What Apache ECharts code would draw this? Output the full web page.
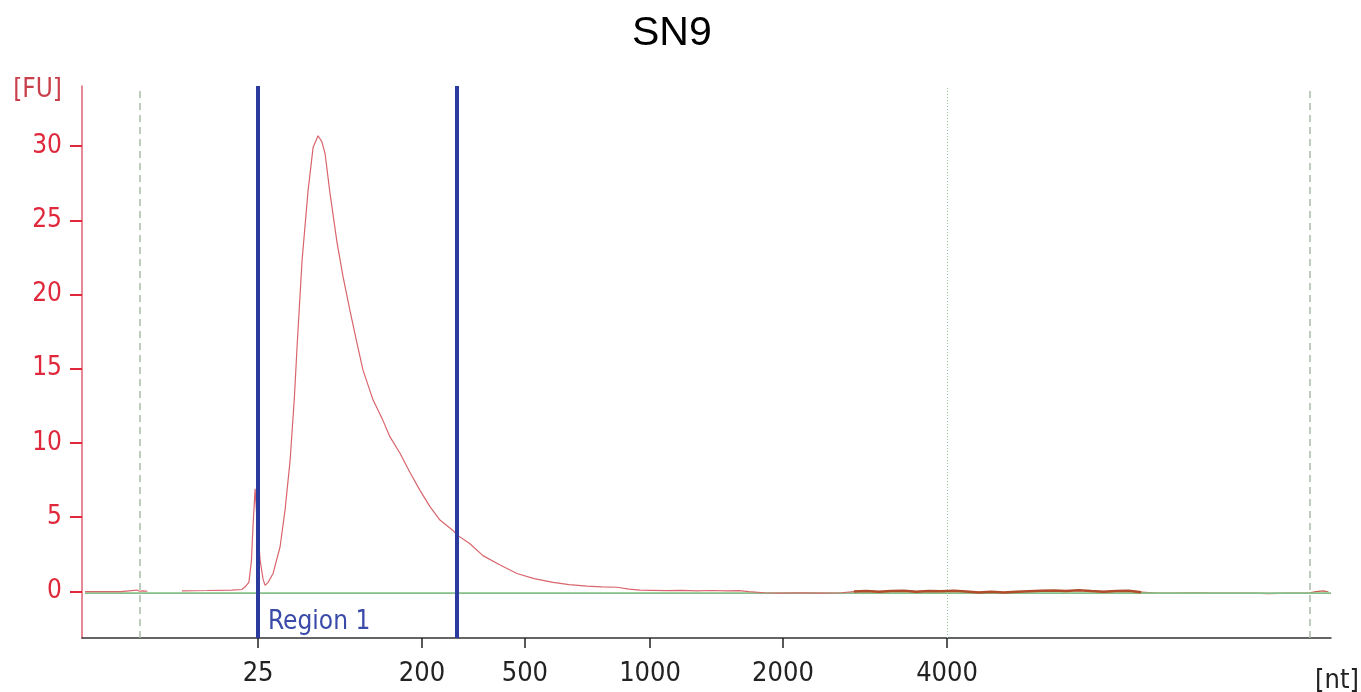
<!DOCTYPE html>
<html><head><meta charset="utf-8">
<script src="https://cdn.jsdelivr.net/npm/echarts@6/dist/echarts.min.js"></script>
<style>html,body{margin:0;padding:0;background:#fff}#c{width:1361px;height:692px}</style>
</head><body><div id="c"></div>
<script>
// migration time (s) of the ladder peaks and their sizes in nt
const ladderTimes = [26.05, 32.61, 36.73, 41.74, 47.06, 53.63];
const ladderLabels = ['25', '200', '500', '1000', '2000', '4000'];
// fluorescence ticks
const fuTicks = [0, 5, 10, 15, 20, 25, 30];
// electropherogram trace: time (s), fluorescence (FU)
const traceT = [19.12,20.55,20.62,21.20,21.30,21.45,21.62,21.70,23.00,24.00,25.00,25.40,25.53,25.68,25.78,25.85,25.93,26.00,26.13,26.25,26.33,26.45,26.65,26.93,27.13,27.33,27.50,27.61,27.81,28.05,28.25,28.45,28.60,28.73,28.93,29.21,29.45,29.73,30.01,30.25,30.65,31.05,31.33,31.73,32.13,32.53,32.93,33.33,33.85,34.01,34.53,35.05,35.70,36.41,37.10,37.86,38.50,39.22,39.80,40.42,40.90,41.34,41.80,42.40,43.00,43.60,44.20,44.80,45.30,45.70,46.30,47.00,47.80,48.60,49.40,49.90,50.40,50.90,51.40,51.90,52.40,52.90,53.40,53.90,54.40,54.90,55.40,55.90,56.40,56.90,57.40,57.90,58.40,58.90,59.40,59.90,60.40,60.90,61.40,62.00,62.80,63.50,64.20,65.00,65.80,66.50,67.30,68.10,68.40,68.70,68.90];
const traceFU = [-0.03,-0.03,0.08,0.08,0.0,0.02,0.0,null,0.03,0.05,0.08,0.12,0.3,0.6,2.0,4.5,6.9,5.0,2.1,0.8,0.4,0.6,1.2,3.0,5.5,8.8,13.0,16.5,22.3,27.0,29.9,30.7,30.3,29.5,26.8,23.5,21.2,18.9,16.7,14.9,12.9,11.5,10.4,9.3,8.0,6.8,5.7,4.8,4.1,3.8,3.2,2.4,1.8,1.2,0.85,0.6,0.45,0.34,0.3,0.27,0.15,0.07,0.06,0.04,0.06,0.03,0.05,0.02,0.04,-0.02,-0.1,-0.12,-0.1,-0.12,-0.1,-0.02,0.02,-0.04,0.01,0.03,-0.03,0.02,0.0,0.03,-0.02,-0.08,-0.03,-0.09,-0.04,0.0,0.03,0.05,0.02,0.06,0.01,-0.03,0.02,0.04,-0.06,-0.12,-0.13,-0.1,-0.13,-0.13,-0.13,-0.16,-0.13,-0.12,-0.02,0.02,-0.05];
// baseline
const baseT = [19.12, 69.0];
const baseFU = [-0.13, -0.13];
// region 1 borders, lower/upper markers
const regionT = [26.05, 34.01];
const markerT = [21.32, 68.16];
const xMin = 19, xMax = 69, yMin = -3.15, yMax = 34.05;

const pts = traceT.map((t, i) => [t, traceFU[i] === null ? '-' : traceFU[i]]);
const partA = pts.filter(p => p[0] <= 61.4);
const partB = pts.filter(p => p[0] >= 61.4);
const dense = pts.filter(p => p[0] >= 49.9 && p[0] <= 61.4);
const base = baseT.map((t, i) => [t, baseFU[i]]);

const font = "'Liberation Sans Narrow','DejaVu Sans Condensed',sans-serif";
const chart = echarts.init(document.getElementById('c'));
chart.setOption({
  animation: false,
  title: { text: 'SN9', left: 627, top: 8, textStyle: { fontFamily: "'Liberation Sans',Arial,sans-serif", fontSize: 41, fontWeight: 'normal', color: '#000' } },
  grid: { left: 82, right: 30, top: 86, bottom: 54, containLabel: false, outerBoundsMode: 'none' },
  xAxis: {
    type: 'value', min: xMin, max: xMax,
    name: '[nt]', nameLocation: 'end', nameGap: -16,
    nameTextStyle: { fontFamily: font, fontSize: 27, color: '#222', verticalAlign: 'top', lineHeight: 86 },
    axisLine: { show: true, onZero: false, lineStyle: { color: '#333', width: 1.5 } },
    axisTick: { show: true, customValues: ladderTimes, length: 10, lineStyle: { color: '#222', width: 1.5 } },
    axisLabel: { customValues: ladderTimes, margin: 22, fontFamily: font, fontSize: 27, color: '#222',
      formatter: v => { const i = ladderTimes.findIndex(t => Math.abs(t - v) < 1e-6); return i >= 0 ? ladderLabels[i] : ''; } },
    splitLine: { show: false }
  },
  yAxis: {
    type: 'value', min: yMin, max: yMax,
    name: '[FU]', nameLocation: 'end', nameGap: -4,
    nameTextStyle: { fontFamily: font, fontSize: 26, color: '#c8404c', align: 'right', verticalAlign: 'middle', padding: [0, 20, 0, 0] },
    axisLine: { show: true, onZero: false, lineStyle: { color: '#e06070', width: 1.5 } },
    axisTick: { show: true, customValues: fuTicks, length: 12, lineStyle: { color: '#e0283c', width: 2 } },
    axisLabel: { customValues: fuTicks, margin: 20, fontFamily: font, fontSize: 26, color: '#e0283c' },
    splitLine: { show: false }
  },
  graphic: [{ type: 'text', left: 268, top: 609, style: { text: 'Region 1', fontFamily: font, fontSize: 26, fill: '#3a4aa8' } }],
  series: [
    { name: 'trace-right', type: 'line', data: partB, showSymbol: false, z: 1, lineStyle: { color: '#c85a50', width: 1.2 } },
    { name: 'baseline', type: 'line', data: base, showSymbol: false, z: 2, lineStyle: { color: '#86bf88', width: 1.8 },
      markLine: { silent: true, symbol: 'none', label: { show: false },
        data: [
          { xAxis: markerT[0], lineStyle: { color: '#a8bca8', type: [7, 5], width: 1.5 } },
          { xAxis: markerT[1], lineStyle: { color: '#a8bca8', type: [7, 5], width: 1.5 } },
          { xAxis: ladderTimes[5], lineStyle: { color: '#9cc49c', type: [1, 2], width: 1 } }
        ] } },
    { name: 'trace', type: 'line', data: partA, showSymbol: false, connectNulls: false, z: 3, lineStyle: { color: '#d9656c', width: 1.2 } },
    { name: 'trace-dense', type: 'line', data: dense, showSymbol: false, z: 4, lineStyle: { color: '#b04c2c', width: 2.5 } },
    { name: 'region', type: 'line', data: [], z: 5,
      markLine: { silent: true, symbol: 'none', label: { show: false }, lineStyle: { color: '#2a3a9e', type: 'solid', width: 4 },
        data: regionT.map(t => ({ xAxis: t })) } }
  ]
});
</script></body></html>
